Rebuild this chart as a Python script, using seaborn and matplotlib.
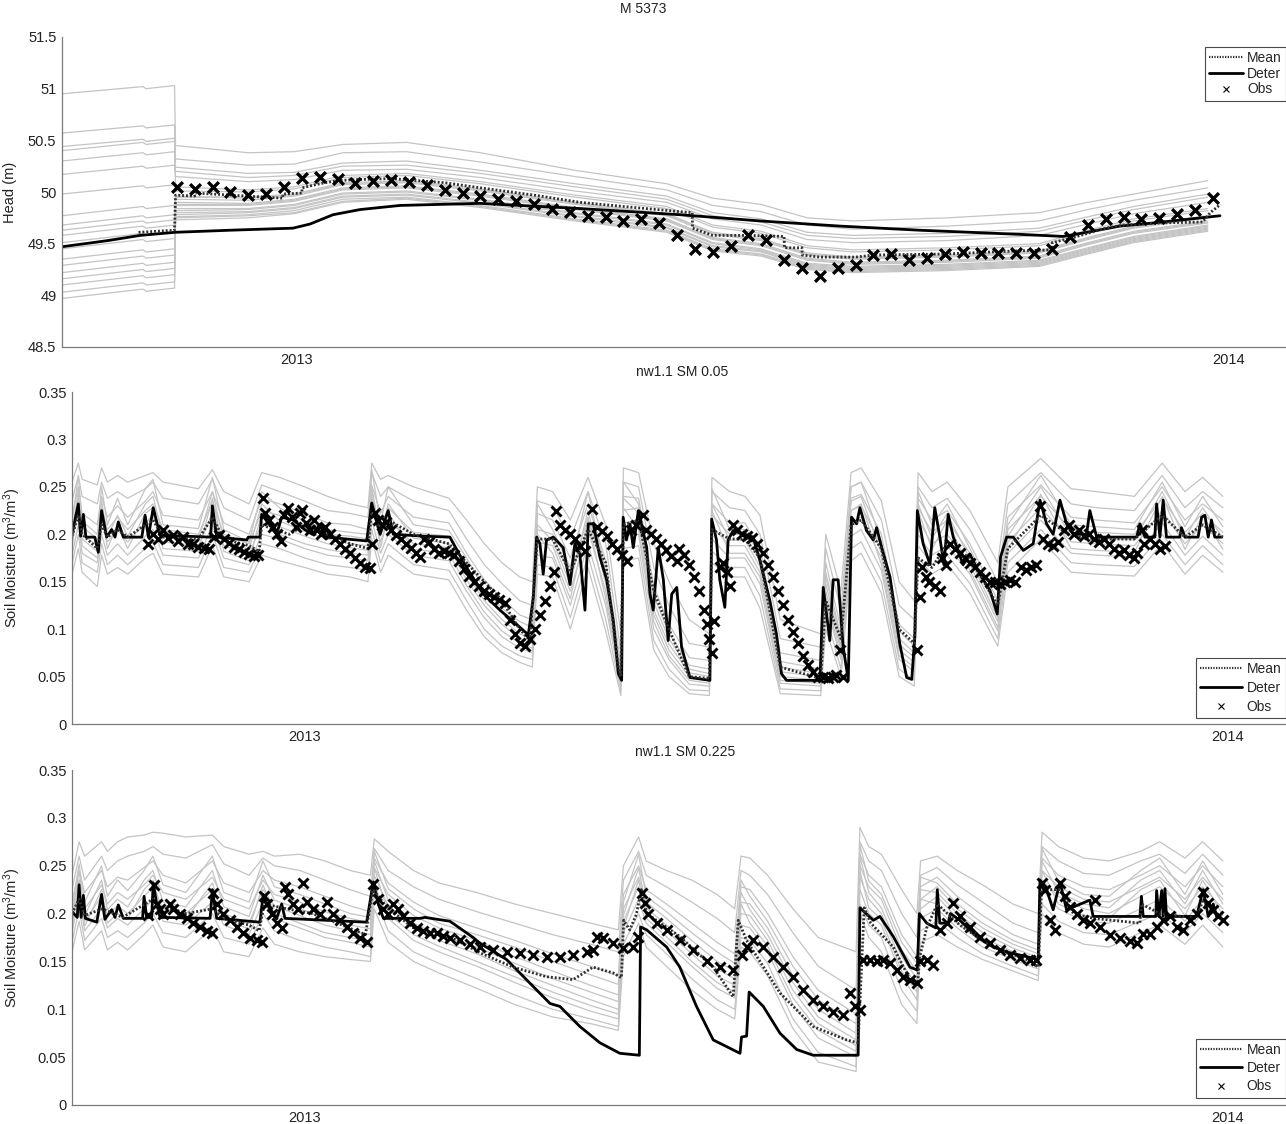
import numpy as np
import pandas as pd
import matplotlib
matplotlib.use("Agg")
import matplotlib.pyplot as plt
from matplotlib.lines import Line2D
import seaborn as sns

sns.set_style("white")
plt.rcParams["font.family"] = ["Liberation Sans", "DejaVu Sans"]
plt.rcParams["mathtext.default"] = "regular"

# ---------------- common ----------------
START = pd.Timestamp("2012-10-01")          # x values are days since this date
X_END_DAY = 493
XTICK_DATES = ["2013-01-01", "2014-01-01"]
XTICK_LABELS = ["2013", "2014"]

TITLES = ["M 5373", "nw1.1 SM 0.05", "nw1.1 SM 0.225"]
YLABELS = ["Head (m)", "Soil Moisture (m$^3$/m$^3$)", "Soil Moisture (m$^3$/m$^3$)"]
LEGEND_LABELS = ["Mean", "Deter", "Obs"]

# ---------------- panel 1 : head ----------------
TOP_YTICKS = [48.5, 49, 49.5, 50, 50.5, 51, 51.5]
TOP_ENS_T = [0, 31.7, 33.0, 44.1, 44.5, 73, 91, 110, 135, 164, 201, 237, 255, 274,
             292, 310, 347, 383, 402, 420, 449]
TOP_MEMBERS = [
    [50.95, 51.02, 51.00, 51.03, 50.45, 50.38, 50.39, 50.46, 50.48, 50.38, 50.21, 50.08, 49.94, 49.88, 49.75, 49.72, 49.75, 49.80, 49.90, 49.98, 50.11],
    [50.57, 50.64, 50.62, 50.65, 50.32, 50.26, 50.27, 50.38, 50.39, 50.29, 50.15, 50.02, 49.87, 49.81, 49.68, 49.64, 49.67, 49.72, 49.83, 49.92, 50.04],
    [50.44, 50.51, 50.49, 50.52, 50.24, 50.18, 50.19, 50.28, 50.30, 50.21, 50.08, 49.96, 49.80, 49.74, 49.61, 49.58, 49.60, 49.65, 49.76, 49.86, 49.98],
    [50.40, 50.48, 50.46, 50.49, 50.05, 50.02, 50.05, 50.16, 50.18, 50.10, 49.97, 49.86, 49.68, 49.62, 49.48, 49.44, 49.46, 49.50, 49.63, 49.74, 49.84],
    [50.30, 50.38, 50.36, 50.39, 50.20, 50.14, 50.16, 50.25, 50.26, 50.18, 50.05, 49.93, 49.77, 49.71, 49.58, 49.55, 49.57, 49.62, 49.73, 49.83, 49.95],
    [50.17, 50.25, 50.23, 50.26, 50.15, 50.10, 50.12, 50.21, 50.22, 50.14, 50.01, 49.90, 49.74, 49.68, 49.54, 49.51, 49.53, 49.58, 49.69, 49.79, 49.90],
    [49.98, 50.06, 50.04, 50.07, 50.01, 50.00, 50.03, 50.14, 50.16, 50.08, 49.95, 49.84, 49.66, 49.60, 49.46, 49.42, 49.44, 49.48, 49.61, 49.72, 49.82],
    [49.77, 49.86, 49.84, 49.87, 49.95, 49.95, 49.98, 50.09, 50.11, 50.03, 49.90, 49.79, 49.61, 49.55, 49.41, 49.37, 49.39, 49.43, 49.56, 49.67, 49.77],
    [49.68, 49.77, 49.75, 49.78, 49.93, 49.92, 49.96, 50.07, 50.09, 50.01, 49.88, 49.77, 49.59, 49.53, 49.39, 49.35, 49.37, 49.41, 49.54, 49.65, 49.75],
    [49.63, 49.72, 49.70, 49.73, 49.96, 49.94, 49.97, 50.08, 50.10, 50.02, 49.89, 49.78, 49.60, 49.54, 49.40, 49.36, 49.38, 49.42, 49.55, 49.66, 49.76],
    [49.58, 49.67, 49.65, 49.68, 49.90, 49.89, 49.93, 50.04, 50.06, 49.98, 49.85, 49.74, 49.56, 49.50, 49.36, 49.32, 49.34, 49.38, 49.51, 49.62, 49.72],
    [49.51, 49.60, 49.58, 49.61, 49.88, 49.88, 49.92, 50.03, 50.05, 49.97, 49.84, 49.73, 49.55, 49.49, 49.35, 49.31, 49.33, 49.37, 49.50, 49.61, 49.71],
    [49.45, 49.54, 49.52, 49.55, 49.87, 49.87, 49.91, 50.02, 50.04, 49.96, 49.83, 49.72, 49.54, 49.48, 49.34, 49.30, 49.32, 49.36, 49.49, 49.60, 49.70],
    [49.35, 49.44, 49.42, 49.45, 49.84, 49.84, 49.88, 49.99, 50.01, 49.93, 49.80, 49.69, 49.51, 49.45, 49.31, 49.28, 49.30, 49.34, 49.46, 49.57, 49.68],
    [49.29, 49.38, 49.36, 49.39, 49.82, 49.83, 49.87, 49.98, 50.00, 49.92, 49.79, 49.68, 49.50, 49.44, 49.30, 49.27, 49.29, 49.33, 49.45, 49.56, 49.67],
    [49.22, 49.31, 49.29, 49.32, 49.80, 49.81, 49.85, 49.96, 49.98, 49.90, 49.77, 49.66, 49.48, 49.43, 49.29, 49.26, 49.28, 49.32, 49.44, 49.55, 49.66],
    [49.16, 49.25, 49.23, 49.26, 49.78, 49.80, 49.84, 49.95, 49.97, 49.89, 49.76, 49.65, 49.47, 49.42, 49.28, 49.25, 49.27, 49.31, 49.43, 49.54, 49.65],
    [49.10, 49.19, 49.17, 49.20, 49.76, 49.78, 49.82, 49.93, 49.95, 49.87, 49.74, 49.63, 49.45, 49.40, 49.27, 49.24, 49.26, 49.30, 49.42, 49.53, 49.64],
    [49.03, 49.12, 49.10, 49.13, 49.75, 49.77, 49.80, 49.91, 49.94, 49.86, 49.73, 49.62, 49.44, 49.39, 49.26, 49.23, 49.25, 49.29, 49.41, 49.52, 49.63],
    [48.97, 49.06, 49.04, 49.07, 49.73, 49.75, 49.79, 49.90, 49.93, 49.85, 49.72, 49.61, 49.43, 49.38, 49.25, 49.22, 49.24, 49.28, 49.40, 49.51, 49.62],
]
TOP_DET_T = [0, 18.0, 30.6, 44.3, 65.8, 90.5, 97.2, 106.2, 116.8, 132.5, 163.8, 203.0,
             242.2, 273.5, 304.9, 336.3, 375.4, 392.3, 401.7, 414.6, 427.6, 453.8]
TOP_DET_V = [49.47, 49.53, 49.58, 49.61, 49.63, 49.65, 49.69, 49.78, 49.83, 49.87, 49.89, 49.84,
             49.78, 49.72, 49.67, 49.63, 49.59, 49.57, 49.61, 49.67, 49.70, 49.77]
TOP_MEAN_T = [30, 44.1, 44.5, 52, 52.1, 59, 66, 73, 80, 86.5,
              86.6, 94, 94.1, 101, 108, 115, 129, 150, 164, 185,
              203, 220, 242, 247, 247.1, 255, 269, 283, 283.1, 290,
              290.1, 297, 311, 318, 346, 374, 388, 388.1, 395, 402,
              409, 416, 430, 447, 450, 454]
TOP_MEAN_V = [49.61, 49.63, 49.97, 49.96, 49.99, 49.98, 49.97, 49.96, 49.95, 49.94,
              49.98, 49.99, 50.04, 50.08, 50.11, 50.12, 50.13, 50.09, 50.04, 49.97,
              49.90, 49.86, 49.81, 49.80, 49.65, 49.58, 49.58, 49.57, 49.46, 49.46,
              49.39, 49.37, 49.37, 49.39, 49.40, 49.43, 49.44, 49.51, 49.55, 49.60,
              49.65, 49.68, 49.70, 49.71, 49.80, 49.88]
TOP_OBS_T = [45, 52, 59, 66, 73, 80, 87, 94, 101, 108, 115, 122, 129, 136, 143, 150, 157, 164,
             171, 178, 185, 192, 199, 206, 213, 220, 227, 234, 241, 248, 255, 262, 269, 276,
             283, 290, 297, 304, 311, 318, 325, 332, 339, 346, 353, 360, 367, 374, 381, 388,
             395, 402, 409, 416, 423, 430, 437, 444, 451]
TOP_OBS_V = [50.05, 50.03, 50.05, 50.00, 49.97, 49.98, 50.05, 50.14, 50.15, 50.13,
             50.09, 50.11, 50.12, 50.10, 50.07, 50.02, 49.99, 49.96, 49.93, 49.91,
             49.88, 49.84, 49.81, 49.77, 49.76, 49.72, 49.74, 49.70, 49.58, 49.45,
             49.42, 49.48, 49.58, 49.54, 49.34, 49.26, 49.19, 49.26, 49.29, 49.39,
             49.40, 49.34, 49.36, 49.40, 49.42, 49.41, 49.41, 49.41, 49.41, 49.45,
             49.56, 49.68, 49.74, 49.76, 49.74, 49.75, 49.79, 49.83, 49.94]

# ---------------- panel 2 : SM 0.05 ----------------
SM_YTICKS = [0, 0.05, 0.1, 0.15, 0.2, 0.25, 0.3, 0.35]
MID_ENS_T = [0, 2.5, 4, 10, 11.7, 14, 18, 22, 29, 32,
             36, 50, 55.5, 60, 70, 75, 82, 92, 101, 110,
             117, 118.5, 122, 125, 135, 149, 156, 163, 170, 177,
             182, 184, 190, 197, 204, 211, 217, 218, 224, 230,
             236, 244, 252, 253, 260, 266, 272, 280, 296, 298,
             304, 308, 312, 320, 327, 333, 334.5, 340, 346, 355,
             366, 370, 383, 395, 405, 420, 431, 440, 447, 455]
MID_MEMBERS = [
    [.255, .275, .258, .252, .27, .255, .262, .255, .262, .265,
     .255, .248, .268, .245, .232, .265, .26, .25, .24, .232,
     .228, .275, .258, .262, .25, .238, .215, .19, .17, .155,
     .15, .25, .245, .215, .26, .21, .095, .27, .265, .19,
     .15, .11, .095, .26, .245, .24, .22, .11, .095, .2,
     .14, .265, .27, .235, .15, .13, .265, .245, .255, .225,
     .17, .25, .28, .248, .245, .24, .275, .245, .26, .24],
    [.235, .262, .24, .232, .255, .238, .245, .238, .248, .255,
     .238, .232, .258, .228, .215, .252, .245, .235, .225, .222,
     .218, .265, .24, .25, .235, .225, .195, .168, .148, .13,
     .125, .235, .23, .195, .245, .19, .075, .255, .25, .165,
     .125, .085, .081, .245, .228, .225, .2, .09, .081, .185,
     .12, .25, .255, .215, .125, .11, .25, .228, .238, .205,
     .15, .232, .265, .232, .228, .225, .262, .228, .245, .228],
    [.218, .25, .222, .21, .24, .218, .23, .218, .235, .245,
     .22, .215, .245, .212, .2, .238, .232, .222, .212, .21,
     .205, .252, .222, .24, .218, .212, .18, .152, .132, .115,
     .11, .222, .215, .175, .232, .172, .062, .24, .238, .145,
     .105, .07, .067, .232, .212, .212, .185, .075, .067, .17,
     .1, .238, .242, .2, .105, .09, .238, .215, .225, .19,
     .13, .218, .252, .218, .215, .212, .25, .215, .232, .215],
    [.212, .262, .214, .2, .25, .21, .238, .21, .248, .258,
     .21, .206, .26, .205, .192, .245, .228, .214, .205, .202,
     .2, .268, .212, .25, .21, .204, .175, .142, .122, .108,
     .102, .232, .205, .165, .245, .16, .058, .255, .232, .135,
     .096, .062, .058, .248, .205, .205, .178, .066, .058, .16,
     .092, .25, .255, .192, .098, .082, .245, .21, .232, .185,
     .122, .21, .262, .21, .208, .205, .255, .208, .24, .208],
    [.205, .24, .208, .195, .228, .205, .218, .205, .225, .232,
     .205, .2, .235, .2, .19, .225, .22, .21, .2, .198,
     .195, .24, .205, .228, .202, .198, .165, .138, .118, .1,
     .095, .205, .2, .155, .218, .155, .053, .225, .228, .128,
     .09, .058, .053, .22, .2, .2, .172, .06, .053, .155,
     .088, .225, .23, .188, .09, .075, .228, .202, .215, .18,
     .118, .205, .24, .205, .202, .2, .238, .202, .222, .202],
    [.198, .245, .2, .188, .235, .198, .22, .198, .232, .24,
     .198, .193, .245, .193, .184, .232, .214, .203, .195, .19,
     .188, .25, .198, .232, .196, .19, .158, .13, .11, .095,
     .09, .21, .193, .148, .225, .148, .05, .238, .222, .12,
     .084, .054, .05, .232, .194, .194, .166, .055, .05, .148,
     .082, .235, .24, .18, .084, .07, .232, .196, .222, .174,
     .112, .198, .25, .198, .196, .194, .245, .196, .228, .196],
    [.19, .225, .195, .182, .215, .192, .205, .192, .212, .22,
     .192, .188, .222, .188, .178, .212, .208, .198, .19, .186,
     .183, .228, .192, .215, .19, .186, .152, .125, .105, .09,
     .085, .192, .188, .14, .205, .14, .046, .212, .215, .115,
     .078, .05, .046, .208, .188, .188, .16, .05, .046, .14,
     .078, .212, .218, .175, .078, .065, .215, .19, .2, .168,
     .108, .192, .228, .192, .19, .188, .225, .19, .21, .19],
    [.185, .24, .188, .175, .225, .185, .21, .185, .222, .228,
     .185, .182, .238, .182, .172, .222, .2, .19, .184, .18,
     .178, .245, .186, .222, .184, .18, .146, .118, .098, .085,
     .08, .2, .18, .132, .215, .132, .043, .228, .205, .108,
     .072, .046, .043, .225, .18, .18, .155, .046, .043, .134,
     .072, .225, .232, .168, .072, .06, .225, .184, .215, .162,
     .102, .185, .242, .185, .183, .181, .24, .184, .22, .184],
    [.178, .21, .18, .17, .2, .178, .19, .178, .198, .205,
     .178, .175, .21, .175, .168, .2, .195, .185, .178, .175,
     .172, .215, .18, .2, .178, .172, .14, .112, .092, .08,
     .075, .178, .175, .125, .19, .125, .04, .198, .2, .1,
     .068, .042, .04, .195, .175, .175, .148, .043, .04, .128,
     .068, .198, .205, .162, .068, .055, .2, .178, .188, .158,
     .098, .18, .215, .18, .178, .176, .212, .178, .198, .178],
    [.168, .2, .17, .16, .19, .168, .178, .168, .185, .192,
     .168, .165, .2, .165, .16, .19, .185, .175, .168, .165,
     .162, .205, .17, .19, .168, .162, .13, .1, .082, .072,
     .068, .168, .165, .112, .178, .11, .035, .185, .188, .088,
     .058, .036, .035, .182, .165, .165, .135, .037, .035, .115,
     .058, .185, .192, .15, .058, .046, .188, .168, .178, .148,
     .09, .17, .205, .17, .168, .166, .2, .168, .188, .168],
    [.158, .185, .16, .145, .178, .158, .165, .158, .175, .18,
     .158, .155, .188, .155, .15, .178, .172, .165, .158, .155,
     .15, .195, .16, .178, .158, .152, .12, .092, .075, .065,
     .06, .158, .155, .1, .165, .098, .03, .172, .175, .078,
     .05, .032, .03, .17, .155, .155, .122, .032, .03, .1,
     .05, .172, .18, .138, .05, .04, .175, .158, .168, .138,
     .082, .16, .195, .16, .158, .156, .19, .158, .178, .16],
]
MID_DET_T = [0, 2.5, 3.4, 4.5, 5.5, 9, 10.4, 11.7, 13.7, 15.7,
             17, 18.3, 20.3, 27.6, 28.9, 30.2, 32.1, 34.8, 54.8, 55.5,
             57.2, 69.1, 69.7, 74.3, 75, 80.9, 82.9, 87.5, 92, 95,
             98, 100.7, 116.5, 118.5, 121.8, 125, 127, 138.9, 149.4, 156,
             162.6, 169.2, 175.8, 180.4, 182.4, 183.7, 185, 186.3, 187.6, 190.3,
             194.2, 196.9, 198.8, 200.8, 202.8, 204.1, 206.1, 208.7, 211.4, 214,
             216, 217.3, 217.9, 219.2, 220.6, 221.9, 223.9, 227.2, 228.5, 229.8,
             231.8, 233.8, 235.7, 237.1, 239.1, 241, 244.3, 252.2, 252.9, 254.8,
             256.1, 258.1, 259.4, 261.4, 265.3, 269.3, 271.9, 275.9, 278.5, 280.5,
             282.5, 295.7, 297, 299.6, 300.9, 302.9, 304.9, 306.9, 308.2, 310.2,
             311.5, 314.1, 316.8, 318.1, 320.1, 323.4, 327.3, 330, 332, 333.2,
             334.2, 336.5, 339.2, 341.1, 343.1, 344.7, 346.4, 348.4, 352.3, 355,
             358.9, 362.9, 365.8, 367.1, 369.5, 372.1, 376.1, 380, 382.7, 385.3,
             387.9, 390.6, 393.2, 395.8, 401.1, 402.4, 405.1, 420.9, 422.2, 424.2,
             428.1, 428.8, 430.1, 431.4, 432.7, 438, 438.6, 440, 445.2, 446.6,
             447.9, 449.2, 450.5, 451.8, 454.5]
MID_DET_V = [.200, .232, .198, .221, .197, .197, .181, .225, .197, .205,
             .197, .213, .197, .197, .220, .197, .228, .199, .197, .230,
             .197, .194, .197, .197, .221, .200, .218, .215, .205, .200,
             .210, .197, .193, .233, .200, .225, .200, .198, .197, .165,
             .137, .120, .105, .094, .134, .197, .190, .158, .194, .197,
             .186, .147, .190, .179, .120, .211, .211, .176, .152, .109,
             .053, .046, .218, .194, .211, .186, .225, .186, .137, .120,
             .186, .152, .088, .137, .144, .081, .049, .046, .216, .194,
             .152, .123, .194, .204, .200, .197, .173, .130, .095, .053,
             .046, .046, .144, .088, .152, .152, .081, .046, .218, .211,
             .228, .204, .194, .207, .186, .155, .084, .049, .047, .092,
             .225, .190, .168, .228, .197, .168, .221, .197, .168, .179,
             .158, .141, .116, .176, .197, .197, .183, .190, .236, .211,
             .200, .236, .211, .200, .200, .225, .197, .197, .211, .197,
             .197, .232, .197, .236, .197, .197, .207, .197, .197, .218,
             .220, .197, .215, .197, .197]
MID_MEAN_T = [0, 2.5, 4, 10, 11.7, 14, 18, 22, 29, 32,
              36, 50, 55.5, 60, 70, 74, 75, 80, 86, 92,
              101, 110, 117, 118.5, 122, 125, 135, 149, 156, 163,
              170, 177, 181, 183, 184, 190, 197, 204, 211, 216,
              217, 218, 224, 230, 236, 244, 252, 253, 260, 266,
              272, 280, 296, 298, 304, 308, 312, 320, 327, 333,
              334.5, 340, 346, 355, 366, 370, 383, 395, 405, 420,
              431, 440, 447, 455]
MID_MEAN_V = [.198, .22, .2, .185, .21, .197, .205, .197, .21, .215,
              .197, .195, .218, .195, .188, .182, .21, .205, .2, .21,
              .2, .19, .185, .225, .205, .215, .2, .19, .17, .15,
              .13, .1, .088, .16, .195, .195, .16, .205, .17, .06,
              .05, .21, .215, .14, .1, .05, .048, .205, .195, .195,
              .175, .06, .048, .13, .09, .21, .215, .185, .1, .085,
              .175, .165, .19, .175, .125, .185, .22, .198, .195, .195,
              .22, .197, .21, .197]
MID_OBS_A_T = [30, 32, 34, 36, 38, 40, 42, 44, 46, 48, 50, 52, 54, 56, 58, 60, 62, 64,
               66, 68, 70, 72, 73.5]
MID_OBS_A_V = [.19, .2, .195, .204, .196, .199, .193, .197, .19, .19, .187, .186, .185,
               .197, .199, .195, .191, .187, .184, .181, .179, .177, .178]
MID_OBS_B_T = [75.5, 76.5, 78, 79.5, 81, 82.5, 84, 85.5, 87, 88.5, 90, 91, 92.5, 94,
               95.5, 97, 98.5, 100, 102, 104, 106, 108, 110, 112, 114, 116, 117.8]
MID_OBS_B_V = [.238, .222, .215, .208, .2, .193, .22, .228, .218, .208, .222, .226,
               .212, .205, .215, .205, .2, .208, .2, .195, .19, .185, .18, .175, .17,
               .166, .164]
MID_OBS_C_T = [118.6, 119.8, 121, 122.5, 124, 126, 128, 130, 132, 134,
               136, 137.6, 139, 141, 143, 145, 147, 149, 151, 153,
               155, 157, 159, 161, 163, 165, 167, 169, 171, 173,
               175, 177, 179, 181, 183, 185, 187, 189, 190.5, 191.5,
               193, 195, 197, 199, 201, 203, 205.6, 207.5, 209.5, 211.5,
               213.5, 215.5, 217.5, 219.4, 221, 223, 225.7, 227, 229, 231,
               233, 235, 237, 239, 240, 242, 244, 246, 248, 250,
               251, 252, 253, 254, 256, 257.5, 259, 260, 261.5, 263,
               265, 267, 269, 271, 273, 275, 277, 279, 281, 283,
               285, 287, 289, 291, 293, 295, 297, 299, 301, 302,
               303.6, 305]
MID_OBS_C_V = [.19, .222, .215, .21, .213, .204, .199, .195, .19, .186,
               .18, .176, .195, .192, .185, .18, .182, .18, .178, .172,
               .163, .156, .15, .145, .14, .137, .134, .131, .128, .11,
               .095, .085, .082, .09, .1, .115, .13, .145, .16, .225,
               .21, .205, .2, .195, .188, .182, .227, .208, .203, .198,
               .19, .185, .178, .172, .205, .21, .22, .205, .2, .195,
               .19, .183, .177, .172, .185, .178, .168, .155, .14, .12,
               .105, .09, .075, .109, .165, .17, .16, .145, .21, .205,
               .2, .198, .196, .19, .18, .168, .155, .14, .125, .11,
               .097, .085, .072, .062, .055, .05, .05, .049, .05, .052,
               .078, .05]
MID_OBS_D_T = [334, 335.2, 336, 337.5, 339, 341, 343, 344, 345.5, 347,
               349, 351, 353, 355, 357, 359, 361, 363, 365, 367,
               369, 371, 373, 375, 377, 379, 381, 382.7, 384, 386,
               388, 390, 392, 394, 396, 398, 400, 402, 404, 406,
               408, 410, 412, 414, 416, 418, 420, 421, 423, 424,
               426, 428, 430, 432]
MID_OBS_D_V = [.078, .134, .165, .155, .15, .145, .14, .175, .168, .19,
               .185, .18, .175, .17, .165, .16, .155, .15, .15, .148,
               .15, .152, .15, .165, .162, .165, .168, .23, .195, .19,
               .188, .192, .205, .21, .2, .205, .198, .2, .195, .192,
               .195, .19, .185, .18, .183, .178, .175, .18, .205, .19,
               .195, .19, .185, .188]

# ---------------- panel 3 : SM 0.225 ----------------
BOT_ENS_T = [0, 2.8, 5, 11.7, 14, 18, 22, 28.5, 32, 36,
             45, 55.5, 60, 70, 75.5, 80, 90, 100, 110, 118,
             119.5, 125, 135, 145, 160, 175, 190, 205, 216, 218,
             224, 227, 235, 245, 255, 262, 264.5, 268, 275, 285,
             295, 310, 311.5, 315, 320, 328, 334, 335.5, 342, 350,
             360, 372, 382, 383.5, 390, 400, 410, 422.5, 430, 440,
             447, 455]
BOT_MEMBERS = [
    [.24, .275, .26, .275, .265, .275, .28, .282, .285, .284,
     .28, .282, .27, .262, .265, .26, .262, .255, .245, .24,
     .278, .265, .245, .232, .222, .21, .2, .19, .183, .25,
     .28, .255, .245, .235, .22, .205, .26, .258, .24, .205,
     .175, .16, .29, .27, .262, .225, .2, .255, .26, .245,
     .23, .21, .2, .285, .27, .258, .255, .265, .275, .258,
     .275, .255],
    [.225, .26, .235, .26, .245, .255, .26, .265, .27, .262,
     .258, .272, .252, .24, .258, .25, .245, .235, .225, .218,
     .268, .245, .228, .215, .202, .19, .178, .168, .16, .235,
     .265, .24, .228, .212, .195, .18, .245, .24, .22, .18,
     .145, .12, .275, .255, .245, .2, .175, .24, .248, .23,
     .212, .19, .18, .27, .255, .242, .24, .255, .262, .242,
     .262, .24],
    [.212, .245, .222, .245, .228, .238, .235, .248, .255, .24,
     .232, .255, .232, .222, .245, .235, .228, .218, .208, .202,
     .258, .232, .212, .198, .185, .172, .158, .145, .135, .22,
     .25, .225, .21, .19, .17, .158, .228, .225, .2, .155,
     .12, .095, .262, .24, .228, .178, .155, .228, .238, .218,
     .198, .178, .168, .258, .24, .228, .225, .24, .25, .228,
     .25, .228],
    [.206, .252, .212, .25, .218, .235, .224, .245, .26, .23,
     .222, .26, .222, .212, .255, .228, .22, .21, .2, .196,
     .265, .226, .205, .19, .178, .165, .15, .136, .126, .212,
     .262, .218, .202, .18, .16, .148, .235, .218, .192, .145,
     .11, .085, .272, .234, .22, .17, .148, .238, .232, .21,
     .19, .172, .162, .268, .234, .22, .218, .245, .258, .22,
     .255, .22],
    [.2, .235, .205, .23, .21, .222, .215, .23, .24, .222,
     .215, .238, .215, .205, .235, .22, .212, .202, .195, .19,
     .248, .22, .198, .185, .172, .155, .14, .125, .115, .205,
     .238, .212, .195, .172, .15, .14, .212, .21, .185, .135,
     .1, .075, .25, .228, .215, .162, .14, .215, .228, .205,
     .185, .168, .158, .245, .228, .215, .212, .228, .238, .215,
     .238, .215],
    [.195, .245, .198, .235, .204, .215, .207, .235, .245, .212,
     .207, .245, .207, .197, .24, .214, .205, .195, .188, .184,
     .255, .214, .19, .178, .165, .148, .132, .118, .108, .198,
     .248, .206, .188, .165, .142, .132, .222, .204, .178, .128,
     .092, .068, .26, .222, .206, .155, .132, .225, .222, .2,
     .18, .164, .154, .255, .222, .21, .206, .235, .245, .21,
     .245, .21],
    [.19, .228, .192, .218, .198, .208, .2, .218, .228, .205,
     .2, .225, .2, .19, .225, .208, .198, .188, .182, .178,
     .24, .208, .185, .172, .158, .14, .125, .11, .1, .192,
     .228, .2, .182, .158, .135, .125, .2, .198, .172, .12,
     .085, .062, .238, .215, .2, .148, .125, .205, .218, .195,
     .175, .16, .15, .235, .218, .205, .2, .218, .228, .205,
     .228, .205],
    [.185, .235, .187, .225, .19, .2, .194, .225, .235, .198,
     .194, .232, .194, .184, .23, .2, .19, .18, .175, .171,
     .248, .2, .178, .166, .15, .134, .118, .104, .095, .185,
     .235, .195, .176, .15, .128, .118, .21, .19, .166, .112,
     .078, .056, .245, .206, .194, .14, .118, .215, .21, .19,
     .17, .156, .146, .245, .21, .198, .195, .225, .235, .198,
     .235, .198],
    [.18, .218, .182, .205, .185, .195, .188, .205, .215, .192,
     .188, .212, .188, .178, .212, .195, .185, .175, .17, .165,
     .23, .195, .172, .16, .145, .128, .112, .098, .09, .18,
     .215, .19, .17, .145, .122, .112, .188, .185, .16, .105,
     .07, .05, .225, .2, .188, .135, .11, .195, .205, .185,
     .165, .152, .142, .225, .205, .192, .19, .205, .215, .192,
     .215, .192],
    [.17, .205, .172, .195, .175, .182, .175, .19, .2, .18,
     .175, .2, .175, .168, .2, .182, .172, .165, .16, .155,
     .22, .182, .16, .148, .132, .115, .1, .09, .082, .168,
     .2, .178, .158, .132, .11, .1, .175, .172, .148, .09,
     .055, .04, .21, .188, .175, .12, .098, .182, .192, .175,
     .158, .145, .135, .21, .192, .18, .178, .192, .2, .18,
     .2, .18],
    [.16, .192, .162, .182, .162, .17, .162, .178, .188, .165,
     .16, .185, .16, .155, .185, .168, .16, .155, .152, .15,
     .205, .17, .15, .138, .122, .105, .092, .085, .078, .155,
     .19, .165, .145, .12, .1, .09, .165, .16, .135, .08,
     .045, .035, .2, .175, .16, .105, .085, .17, .178, .165,
     .152, .14, .13, .2, .18, .168, .165, .18, .188, .168,
     .188, .165],
]
BOT_DET_T = [0, 2.1, 2.8, 3.6, 4.5, 5.3, 9.8, 11.7, 13, 15.7,
             17, 18.3, 20.3, 27.9, 28.5, 29.5, 31.5, 32.1, 33.5, 34.8,
             54.6, 55.5, 57.2, 74.3, 75.6, 77, 80.9, 82.9, 84.2, 116.5,
             119.1, 121.1, 123.1, 137.6, 139.5, 149.4, 158.6, 161.3, 171.8, 189,
             192.9, 200.8, 208.7, 216.6, 224.3, 224.8, 227.2, 235.1, 240.3, 246.9,
             253.5, 264.1, 264.7, 266.7, 267.7, 273.3, 279.9, 286.5, 293, 310.8,
             311.5, 316.8, 319.4, 324.7, 331.3, 334.2, 335, 337.9, 341.5, 342.1,
             343.1, 346.4, 347.3, 351, 357.6, 364.2, 370.8, 377.4, 382, 382.7,
             385.3, 387.9, 390.6, 393.2, 402.4, 403.7, 422.2, 422.8, 423.5, 428.5,
             428.8, 429.7, 430.8, 431.4, 432.1, 432.7, 444.6, 447.2, 449.2, 451.2,
             452.5, 453.8]
BOT_DET_V = [.202, .196, .230, .196, .219, .195, .191, .220, .194, .204,
             .196, .209, .195, .195, .218, .196, .196, .232, .210, .196,
             .195, .225, .195, .191, .220, .210, .195, .210, .195, .191,
             .233, .210, .195, .195, .196, .192, .175, .169, .152, .106,
             .103, .082, .065, .054, .052, .186, .183, .165, .144, .103,
             .068, .054, .071, .072, .118, .103, .075, .058, .052, .052,
             .206, .193, .197, .176, .144, .141, .200, .190, .185, .225,
             .190, .190, .200, .193, .176, .165, .159, .155, .152, .235,
             .225, .204, .233, .204, .214, .197, .197, .218, .197, .197,
             .224, .197, .224, .197, .226, .197, .197, .225, .197, .210,
             .197, .197]
BOT_MEAN_T = [0, 2.8, 5, 12, 20, 32, 35, 40, 45, 55.5,
              60, 70, 74, 76, 85, 95, 105, 116, 119, 125,
              135, 150, 161.3, 174.4, 187.6, 198.1, 206, 213.9, 217.2, 218.1,
              220.5, 223.1, 225.1, 227.2, 240.3, 253.5, 261.4, 263.4, 266.7, 279.9,
              293, 306.2, 310.8, 313.2, 315.8, 324.7, 331.3, 334.2, 335.2, 337.9,
              342.1, 351, 364.2, 377.4, 382, 383.3, 390.6, 395.9, 403.7, 422.2,
              422.8, 430.1, 444.6, 447.2, 453.8]
BOT_MEAN_V = [.2, .215, .198, .205, .196, .215, .2, .205, .2, .205,
              .195, .188, .182, .21, .205, .2, .19, .178, .225, .205,
              .185, .175, .159, .144, .134, .131, .144, .138, .133, .193,
              .183, .199, .225, .2, .176, .144, .113, .193, .172, .117,
              .082, .068, .065, .206, .19, .165, .131, .124, .155, .185,
              .21, .188, .165, .152, .144, .225, .225, .2, .195, .19,
              .21, .2, .195, .215, .197]
BOT_OBS_A_T = [30.2, 32.4, 33.5, 34.8, 36.1, 38.7, 40, 42.7, 45.3, 48,
               50.6, 53.2, 55.2, 55.9, 57.2, 59.8, 62.5, 65.1, 67.7, 70.4,
               73, 75, 75.9, 77, 78.9, 80.9, 82.9, 84.2, 85.5, 87.5,
               89.5, 91.2, 92.8, 95.4, 98, 100.7, 103.3, 105.9, 108.6, 111.2,
               113.8, 116.5, 119.1, 121.1, 123.1, 125, 127, 129, 131, 133.6,
               136.3, 138.9, 141.5, 144.2, 146.8, 149.4, 153.4, 157.3]
BOT_OBS_A_V = [.199, .23, .21, .205, .2, .21, .205, .2, .195, .19,
               .186, .182, .18, .222, .21, .2, .193, .186, .18, .175,
               .172, .17, .218, .21, .2, .19, .185, .228, .22, .21,
               .205, .232, .212, .205, .2, .212, .2, .193, .186, .18,
               .175, .17, .231, .215, .205, .2, .21, .205, .197, .19,
               .185, .182, .18, .18, .177, .175, .172, .168]
BOT_OBS_B_T = [161.3, 166.5, 171.8, 177.1, 182.4, 187.6, 192.9, 198.2, 203.5, 206.1,
               207.4, 210, 214, 217.9, 221.9, 223.9, 225.2, 226.5, 227.8, 231.1,
               235.1, 240.3, 245.6, 250.9, 256.2, 261.4, 264.7, 266.7, 269.3, 273.3,
               277.2, 281.2, 285.1, 289.1, 293, 297, 301, 304.9, 307.5, 309.5,
               311.5]
BOT_OBS_B_V = [.165, .162, .16, .159, .157, .155, .155, .157, .16, .162,
               .176, .174, .169, .164, .165, .176, .221, .211, .2, .19,
               .183, .172, .162, .15, .144, .141, .157, .165, .172, .165,
               .155, .144, .134, .12, .11, .103, .097, .094, .117, .103,
               .099]
BOT_OBS_C_T = [312.8, 315.5, 318.1, 320.7, 323.4, 326, 328.6, 331.3, 333.9, 335.2,
               337.9, 340.5, 343.1, 345.8, 348.4, 351, 355, 358.9, 362.9, 366.8,
               370.8, 374.7, 378.7, 381.3, 383.3, 384.6, 386.6, 388.6, 390.6, 392.5,
               394.5, 397.2, 399.8, 402.4, 404.4, 406.4, 410.3, 414.3, 418.2, 420.9,
               423.5, 426.1, 428.8, 431.4, 434.1, 436.7, 439.3, 442, 444.6, 447.2,
               449.2, 451.2, 453.2, 455.1]
BOT_OBS_C_V = [.152, .152, .15, .152, .148, .141, .134, .131, .127, .15,
               .152, .146, .183, .19, .211, .197, .186, .176, .169, .162,
               .157, .154, .152, .152, .232, .225, .193, .183, .232, .218,
               .207, .2, .193, .19, .214, .186, .178, .174, .171, .169,
               .179, .179, .186, .193, .197, .186, .183, .193, .2, .223,
               .211, .204, .197, .193]

# ---------------- drawing ----------------
W, H = 1286, 1124
ENS_C = "#c4c4c4"
MEAN_C = "#303030"
AXIS_C = "#7a7a7a"


def to_dates(days):
    return START + pd.to_timedelta(np.asarray(days, dtype=float), unit="D")


def rect(left, top, right, bottom):
    return [left / W, 1 - bottom / H, (right - left) / W, (bottom - top) / H]


fig = plt.figure(figsize=(W / 100, H / 100), dpi=100)
axes = [fig.add_axes(rect(62, 37, 1320, 347)),
        fig.add_axes(rect(72, 392, 1319, 724)),
        fig.add_axes(rect(72, 770, 1319, 1105))]


def draw(ax, ens_t, members, det_t, det_v, mean_t, mean_v, obs_t, obs_v, ms, mew):
    xd = to_dates(ens_t)
    for m in members:
        sns.lineplot(x=xd, y=m, ax=ax, color=ENS_C, lw=0.9, estimator=None,
                     sort=False, legend=False)
    sns.lineplot(x=to_dates(det_t), y=det_v, ax=ax, color="black", lw=2.0,
                 estimator=None, sort=False, legend=False)
    sns.lineplot(x=to_dates(mean_t), y=mean_v, ax=ax, color=MEAN_C, lw=2.0,
                 linestyle=(0, (0.7, 0.7)), estimator=None, sort=False, legend=False)
    sns.scatterplot(x=to_dates(obs_t), y=obs_v, ax=ax, marker="x", s=ms,
                    color="black", linewidth=mew, legend=False, zorder=5)


draw(axes[0], TOP_ENS_T, TOP_MEMBERS, TOP_DET_T, TOP_DET_V, TOP_MEAN_T, TOP_MEAN_V,
     TOP_OBS_T, TOP_OBS_V, 60, 2.4)
draw(axes[1], MID_ENS_T, MID_MEMBERS, MID_DET_T, MID_DET_V, MID_MEAN_T, MID_MEAN_V,
     MID_OBS_A_T + MID_OBS_B_T + MID_OBS_C_T + MID_OBS_D_T,
     MID_OBS_A_V + MID_OBS_B_V + MID_OBS_C_V + MID_OBS_D_V, 52, 2.1)
draw(axes[2], BOT_ENS_T, BOT_MEMBERS, BOT_DET_T, BOT_DET_V, BOT_MEAN_T, BOT_MEAN_V,
     BOT_OBS_A_T + BOT_OBS_B_T + BOT_OBS_C_T,
     BOT_OBS_A_V + BOT_OBS_B_V + BOT_OBS_C_V, 52, 2.1)

ylims = [(48.5, 51.5), (0, 0.35), (0, 0.35)]
yticks = [TOP_YTICKS, SM_YTICKS, SM_YTICKS]
label_x = [(17 - 62) / 1258, (23 - 72) / 1247, (23 - 72) / 1247]
for ax, yl, yt, lab, lx in zip(axes, ylims, yticks, YLABELS, label_x):
    ax.set_xlim(START, START + pd.Timedelta(days=X_END_DAY))
    ax.set_xticks([pd.Timestamp(d) for d in XTICK_DATES])
    ax.set_xticklabels(XTICK_LABELS)
    ax.set_ylim(*yl)
    ax.set_yticks(yt)
    ax.set_yticklabels(["%g" % v for v in yt])
    ax.set_xlabel("")
    ax.set_ylabel(lab, fontsize=10.5, color="#222222")
    ax.yaxis.set_label_coords(lx, 0.5)
    sns.despine(ax=ax)
    for s in ("left", "bottom"):
        ax.spines[s].set_color(AXIS_C)
        ax.spines[s].set_linewidth(0.9)
    ax.tick_params(axis="both", direction="in", length=7, width=0.9, color=AXIS_C,
                   labelsize=10.5, labelcolor="#222222")
    ax.tick_params(axis="y", pad=4)
    ax.tick_params(axis="x", pad=4)

fig.text(643 / W, 1 - 9 / H, TITLES[0], ha="center", va="center", fontsize=10, color="#222222")
fig.text(682 / W, 1 - 372 / H, TITLES[1], ha="center", va="center", fontsize=10, color="#222222")
fig.text(685 / W, 1 - 752 / H, TITLES[2], ha="center", va="center", fontsize=10, color="#222222")


def add_legend(ax, left_px, top_px, handlelength, labelspacing):
    handles = [Line2D([], [], color=MEAN_C, lw=1.6, linestyle=(0, (0.6, 0.6))),
               Line2D([], [], color="black", lw=2.0),
               Line2D([], [], color="black", lw=0, marker="x", markersize=5,
                      markeredgewidth=0.8)]
    leg = ax.legend(handles, LEGEND_LABELS, loc="upper left",
                    bbox_to_anchor=(left_px / W, 1 - top_px / H),
                    bbox_transform=fig.transFigure, frameon=True, fancybox=False,
                    framealpha=1, edgecolor="#4a4a4a", fontsize=10,
                    handlelength=handlelength, handletextpad=0.35, borderpad=0.3,
                    labelspacing=labelspacing, borderaxespad=0)
    leg.get_frame().set_linewidth(0.8)
    leg.set_zorder(10)


add_legend(axes[0], 1205, 47, 2.4, 0.12)
add_legend(axes[1], 1196, 658, 3.0, 0.35)
add_legend(axes[2], 1196, 1039, 3.0, 0.3)

fig.savefig("out.png", dpi=100)
